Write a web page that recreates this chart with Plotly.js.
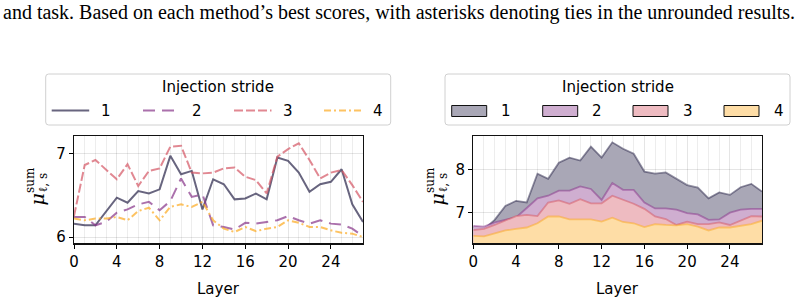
<!DOCTYPE html>
<html>
<head>
<meta charset="utf-8">
<script src="https://cdn.plot.ly/plotly-3.0.1.min.js"></script>
<style>
html,body{margin:0;padding:0;background:#fff;}
#chart{width:802px;height:304px;}
</style>
</head>
<body>
<div id="chart"></div>
<script>
// ---------- data ----------
const layers = [0,1,2,3,4,5,6,7,8,9,10,11,12,13,14,15,16,17,18,19,20,21,22,23,24,25,26,27];
const strideNames = ['1','2','3','4'];
const legendTitle = 'Injection stride';
const xLabel = 'Layer';
const yLabelMain = '\u03bc';
const yLabelSup = 'sum';
const yLabelSub = '\u2113, s';
const caption = 'and task. Based on each method\u2019s best scores, with asterisks denoting ties in the unrounded results.';

// left panel: line chart
const lineStride1 = [6.16,6.14,6.14,6.30,6.47,6.41,6.55,6.52,6.57,6.97,6.75,6.79,6.33,6.69,6.63,6.45,6.46,6.52,6.45,6.95,6.91,6.77,6.54,6.63,6.66,6.81,6.39,6.18];
const lineStride2 = [6.24,6.24,6.14,6.18,6.29,6.33,6.39,6.42,6.32,6.43,6.70,6.48,6.51,6.14,6.12,6.09,6.17,6.16,6.18,6.20,6.25,6.20,6.16,6.20,6.16,6.15,6.10,6.01];
const lineStride3 = [6.25,6.86,6.92,6.81,6.69,6.87,6.61,6.79,6.82,7.08,7.09,6.77,6.76,6.77,6.82,6.83,6.72,6.68,6.52,6.96,7.05,7.12,6.92,6.70,6.77,6.80,6.62,6.42];
const lineStride4 = [6.22,6.20,6.22,6.22,6.24,6.20,6.31,6.35,6.20,6.36,6.39,6.36,6.42,6.20,6.10,6.06,6.12,6.07,6.10,6.12,6.20,6.17,6.12,6.12,6.08,6.05,6.04,6.00];

// right panel: area chart
const areaStride1 = [6.66,6.60,6.82,7.15,7.27,7.23,7.91,7.79,8.17,8.29,8.22,8.55,8.29,8.65,8.50,8.38,7.96,7.91,7.94,7.78,7.64,7.58,7.33,7.47,7.41,7.59,7.67,7.49];
const areaStride2 = [6.68,6.66,6.76,6.82,6.88,7.10,7.33,7.39,7.51,7.51,7.61,7.55,7.29,7.69,7.53,7.53,7.23,7.09,7.09,7.06,6.98,6.95,6.82,6.83,6.99,7.06,7.08,7.08];
const areaStride3 = [6.58,6.61,6.70,6.80,6.91,6.94,6.91,7.23,7.28,7.20,7.31,7.21,7.21,7.39,7.29,7.20,7.08,6.90,6.84,6.70,6.78,6.72,6.72,6.76,6.70,6.80,6.91,6.90];
const areaStride4 = [6.44,6.43,6.50,6.57,6.61,6.64,6.74,6.90,6.90,6.83,6.83,6.83,6.78,6.87,6.77,6.74,6.65,6.72,6.70,6.69,6.72,6.66,6.57,6.64,6.64,6.68,6.72,6.80];

// ---------- styles ----------
const baseRGB = [[40,35,72],[135,52,137],[212,85,100],[252,170,32]];
const fillColors = ['#a9a7b6','#cfaed0','#eebbc1','#fedda6'];
const dashes = ['solid','12px,7px','9px,3px','7px,3px,2px,3px'];
const rgba = (c,a)=>`rgba(${c[0]},${c[1]},${c[2]},${a})`;
const W = 802, H = 304;
const px = x => x / W;
const py = y => 1 - y / H;
const FONT = 'DejaVu Sans, sans-serif';
const SERIF = 'DejaVu Serif, serif';
const FS = 15;

const lineSeries = [lineStride1, lineStride2, lineStride3, lineStride4];
const areaSeries = [areaStride1, areaStride2, areaStride3, areaStride4];

const traces = [];
lineSeries.forEach((ys,i)=>{
  traces.push({
    x: layers, y: ys, type:'scatter', mode:'lines', name: strideNames[i],
    xaxis:'x', yaxis:'y', showlegend:false, hoverinfo:'skip',
    line:{color: rgba(baseRGB[i],0.7), width:2, dash: dashes[i]}
  });
});
areaSeries.forEach((ys,i)=>{
  traces.push({
    x: layers, y: ys, type:'scatter', mode:'lines', name: strideNames[i],
    xaxis:'x2', yaxis:'y2', showlegend:false, hoverinfo:'skip',
    fill:'tozeroy', fillcolor: fillColors[i],
    line:{color: rgba(baseRGB[i],0.5), width:1.8}
  });
});

// ---------- axes ----------
function xAxis(domain, anchor){
  return {
    domain: domain, range:[0,27], tick0:0, dtick:4, anchor:anchor,
    showgrid:true, gridcolor:'rgba(0,0,0,0.10)', gridwidth:1,
    minor:{tick0:0, dtick:1, showgrid:true, gridcolor:'rgba(0,0,0,0.07)', gridwidth:1, ticks:''},
    ticks:'outside', ticklen:4, tickwidth:1, tickcolor:'#000',
    showline:true, mirror:true, linecolor:'#111', linewidth:1.3,
    zeroline:false, tickfont:{family:FONT, size:FS, color:'#000'}, fixedrange:true
  };
}
function yAxis(range, anchor){
  return {
    domain:[1-243.3/H, 1-136/H], range:range, dtick:1, anchor:anchor,
    showgrid:true, gridcolor:'rgba(0,0,0,0.10)', gridwidth:1,
    ticks:'outside', ticklen:4, tickwidth:1, tickcolor:'#000',
    showline:true, mirror:true, linecolor:'#111', linewidth:1.3,
    zeroline:false, tickfont:{family:FONT, size:FS, color:'#000'}, fixedrange:true
  };
}

// ---------- legends (drawn as shapes + text) ----------
const shapes = [];
const annotations = [];
function roundedBox(x0,y0,x1,y1,r){
  const X0=px(x0),X1=px(x1),T=py(y0),B=py(y1),rx=r/W,ry=r/H;
  return `M${X0+rx},${T} L${X1-rx},${T} Q${X1},${T} ${X1},${T-ry} L${X1},${B+ry} Q${X1},${B} ${X1-rx},${B} L${X0+rx},${B} Q${X0},${B} ${X0},${B+ry} L${X0},${T-ry} Q${X0},${T} ${X0+rx},${T} Z`;
}
function legendFrame(x0,x1){
  shapes.push({type:'path', xref:'paper', yref:'paper', path: roundedBox(x0,74,x1,125,3),
    line:{color:'#d0d0d0', width:1}, fillcolor:'rgba(255,255,255,0.8)', layer:'above'});
  annotations.push({xref:'paper', yref:'paper', x:px((x0+x1)/2), y:py(87), text:legendTitle,
    showarrow:false, xanchor:'center', yanchor:'middle', font:{family:FONT, size:FS, color:'#000'}});
}
legendFrame(45.7, 390.7);
legendFrame(445, 790);

const leftItemX = [51.7, 143, 234, 324];
const rightItemX = [451.7, 542.7, 633, 724];
const itemY = 110.5;
strideNames.forEach((nm,i)=>{
  shapes.push({type:'line', xref:'paper', yref:'paper', x0:px(leftItemX[i]), x1:px(leftItemX[i]+37.5),
    y0:py(itemY), y1:py(itemY), line:{color: rgba(baseRGB[i],0.7), width:2, dash: dashes[i]}, layer:'above'});
  annotations.push({xref:'paper', yref:'paper', x:px(leftItemX[i]+54), y:py(itemY+0.5), text:nm, showarrow:false,
    xanchor:'center', yanchor:'middle', font:{family:FONT, size:FS, color:'#000'}});
  shapes.push({type:'rect', xref:'paper', yref:'paper', x0:px(rightItemX[i]), x1:px(rightItemX[i]+35),
    y0:py(105.5), y1:py(116.5), fillcolor: fillColors[i], line:{color:'#111', width:1}, layer:'above'});
  annotations.push({xref:'paper', yref:'paper', x:px(rightItemX[i]+54.5), y:py(itemY+0.5), text:nm, showarrow:false,
    xanchor:'center', yanchor:'middle', font:{family:FONT, size:FS, color:'#000'}});
});

// y-axis titles: mu with stacked superscript / subscript (rotated)
[0, 400].forEach(dx=>{
  annotations.push({xref:'paper', yref:'paper', x:px(36.5+dx), y:py(200), text:'<i>'+yLabelMain+'</i>', textangle:-90,
    showarrow:false, xanchor:'center', yanchor:'middle', font:{family:SERIF, size:19, color:'#000'}});
  annotations.push({xref:'paper', yref:'paper', x:px(30+dx), y:py(180), text:yLabelSup, textangle:-90,
    showarrow:false, xanchor:'center', yanchor:'middle', font:{family:SERIF, size:12, color:'#000'}});
  annotations.push({xref:'paper', yref:'paper', x:px(42+dx), y:py(182.5), text:yLabelSub, textangle:-90,
    showarrow:false, xanchor:'center', yanchor:'middle', font:{family:SERIF, size:12, color:'#000'}});
});
[[218.5,289],[617.6,289]].forEach(p=>{
  annotations.push({xref:'paper', yref:'paper', x:px(p[0]), y:py(p[1]), text:xLabel,
    showarrow:false, xanchor:'center', yanchor:'middle', font:{family:FONT, size:FS, color:'#000'}});
});
// caption line from the surrounding document
annotations.push({xref:'paper', yref:'paper', x:px(1), y:py(12.5), text:caption, showarrow:false,
  xanchor:'left', yanchor:'middle', font:{family:'Liberation Serif, Times New Roman, serif', size:20, color:'#000'}});

const layout = {
  width:W, height:H, margin:{l:0,r:0,t:0,b:0},
  paper_bgcolor:'#fff', plot_bgcolor:'#fff', showlegend:false,
  xaxis: xAxis([74/W, 363/W], 'y'),
  yaxis: yAxis([5.925, 7.207], 'x'),
  xaxis2: xAxis([473.3/W, 762/W], 'y2'),
  yaxis2: yAxis([6.267, 8.80], 'x2'),
  shapes: shapes, annotations: annotations
};

Plotly.newPlot('chart', traces, layout, {staticPlot:true, displayModeBar:false});
</script>
</body>
</html>
